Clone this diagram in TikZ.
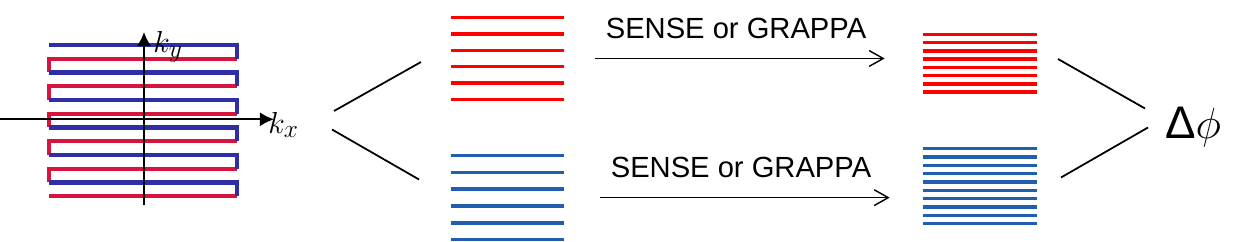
\documentclass[tikz,border=0pt]{standalone}
\usepackage{fontspec}
\setsansfont{Liberation Sans}
\usetikzlibrary{positioning, calc, fit, arrows.meta}
\definecolor{kblue}{HTML}{2E2EA6}
\definecolor{kred}{HTML}{D6143E}
\definecolor{lored}{HTML}{FF0000}
\definecolor{loblue}{HTML}{1F5FAD}

\begin{document}
\begin{tikzpicture}[
        x=0.02cm, y=-0.02cm,
        traj/.style={line width=2.3pt, line join=miter},
        stripe/.style={line width=2pt},
        axis/.style={line width=1pt, -{Latex[length=8pt, width=8pt]}},
        branch/.style={line width=1pt},
        recon/.style={line width=0.8pt, -{Straight Barb[length=8pt, width=9pt]}},
        method/.style={font=\sffamily\fontsize{16.6}{19}\selectfont, inner sep=0pt},
        klabel/.style={anchor=west, inner sep=0pt, font=\fontsize{19}{21}\selectfont},
        box/.style={inner sep=0pt}
    ]
        \useasboundingbox (0,0) rectangle (1250,242);

        % k-space trajectory
        \node [box, fit={(49,45) (237,196.25)}] (kspace) {};
        \foreach \i in {1,3,...,9}
            \draw [traj, kred] (237,45+\i*13.75) -- (49,45+\i*13.75) -- (49,45+\i*13.75+13.75);
        \draw [traj, kred] (237,196.25) -- (49,196.25);
        \foreach \i in {0,2,...,10}
            \draw [traj, kblue] (49,45+\i*13.75) -- (237,45+\i*13.75) -- (237,45+\i*13.75+13.75);

        % axes
        \coordinate (ky-from) at (144,205);
        \coordinate (ky-to) at (144,32);
        \coordinate (kx-from) at (0,119.3);
        \coordinate (kx-to) at (274,119.3);
        \draw [axis] (ky-from) -- (ky-to);
        \draw [axis] (kx-from) -- (kx-to);
        \node [klabel] (ky) at (153,47) {$k_y$};
        \node [klabel] (kx) at (268,125) {$k_x$};

        % undersampled data
        \node [box, fit={(451,17.7) (564,99.3)}] (redlo) {};
        \node [box, fit={(451,156) (564,239.3)}] (bluelo) {};
        \foreach \i in {0,...,5} {
            \draw [stripe, lored] ($(redlo.north west)!\i/5!(redlo.south west)$) -- ($(redlo.north east)!\i/5!(redlo.south east)$);
            \draw [stripe, loblue] ($(bluelo.north west)!\i/5!(bluelo.south west)$) -- ($(bluelo.north east)!\i/5!(bluelo.south east)$);
        }

        % reconstructed data
        \node [box, fit={(923,34.7) (1037,91.7)}] (redhi) {};
        \node [box, fit={(923,149) (1037,223.3)}] (bluehi) {};
        \foreach \i in {0,...,7}
            \draw [stripe, lored] ($(redhi.north west)!\i/7!(redhi.south west)$) -- ($(redhi.north east)!\i/7!(redhi.south east)$);
        \foreach \i in {0,...,9}
            \draw [stripe, loblue] ($(bluehi.north west)!\i/9!(bluehi.south west)$) -- ($(bluehi.north east)!\i/9!(bluehi.south east)$);

        \node (dphi) at (1193,127) {\fontsize{26}{30}\selectfont{\sffamily Δ}$\phi$};

        % Edges
        \coordinate (split-up) at (334,111);
        \coordinate (split-down) at (332,129.5);
        \coordinate (odd-in) at (421,62);
        \coordinate (even-in) at (419,179.5);
        \draw [branch] (split-up) -- (odd-in);
        \draw [branch] (split-down) -- (even-in);

        \draw [recon, shorten <=0.62cm, shorten >=0.76cm] (redlo.east) -- node[method, yshift=0.6cm, xshift=-0.15cm] {SENSE or GRAPPA} (redhi.west |- redlo.east);
        \draw [recon, shorten <=0.72cm, shorten >=0.66cm] (bluelo.east) -- node[method, yshift=0.6cm, xshift=-0.05cm] {SENSE or GRAPPA} (bluehi.west |- bluelo.east);

        \coordinate (odd-out) at (1058,59);
        \coordinate (even-out) at (1061,177.5);
        \coordinate (dphi-up) at (1145,108.5);
        \coordinate (dphi-down) at (1148,127.5);
        \draw [branch] (odd-out) -- (dphi-up);
        \draw [branch] (even-out) -- (dphi-down);

\end{tikzpicture}
\end{document}
